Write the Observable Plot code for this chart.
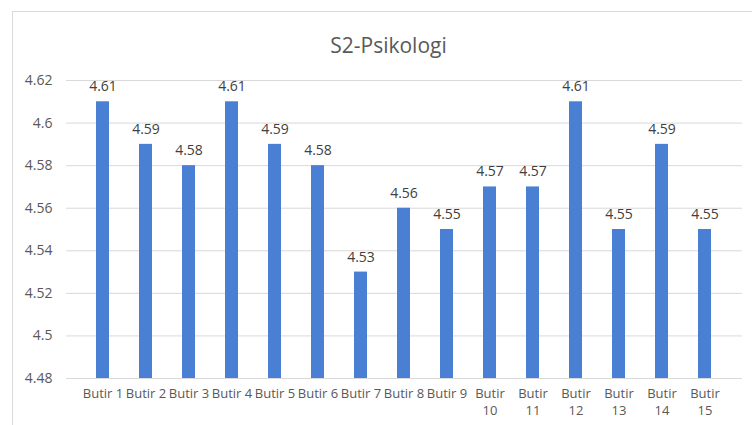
<!DOCTYPE html>
<html>
<head>
<meta charset="utf-8">
<script src="https://cdn.jsdelivr.net/npm/d3@7"></script>
<script src="https://cdn.jsdelivr.net/npm/@observablehq/plot@0.6"></script>
<style>
  body { margin: 0; background: #fff; }
  #wrap { position: relative; width: 752px; height: 425px; overflow: hidden; }
  #border { position: absolute; left: 12px; top: 11px; width: 800px; height: 500px;
            border-left: 1px solid #d9d9d9; border-top: 1px solid #d9d9d9; }
  #wrap svg { position: absolute; left: 0; top: 0; }
</style>
</head>
<body>
<div id="wrap"><div id="border"></div></div>
<script>
const title = "S2-Psikologi";
const categories = ["Butir 1","Butir 2","Butir 3","Butir 4","Butir 5","Butir 6","Butir 7","Butir 8","Butir 9","Butir 10","Butir 11","Butir 12","Butir 13","Butir 14","Butir 15"];
const values = [4.61, 4.59, 4.58, 4.61, 4.59, 4.58, 4.53, 4.56, 4.55, 4.57, 4.57, 4.61, 4.55, 4.59, 4.55];
const yTicks = [4.48, 4.50, 4.52, 4.54, 4.56, 4.58, 4.60, 4.62];

const data = categories.map((c, i) => ({cat: c, value: values[i]}));
const wrapped = categories.filter(c => c.length > 7);
const font = "'Open Sans', sans-serif";

const chart = Plot.plot({
  width: 752,
  height: 425,
  marginLeft: 66,
  marginRight: 10,
  marginTop: 80,
  marginBottom: 47,
  style: {fontFamily: font, fontSize: "13px", color: "#595959", background: "transparent"},
  x: {domain: categories, padding: 0.69, label: null},
  y: {domain: [4.48, 4.62], label: null},
  marks: [
    Plot.gridY(yTicks, {stroke: "#d9d9d9", strokeOpacity: 1, strokeWidth: 1}),
    Plot.axisY(yTicks, {tickSize: 0, tickPadding: 14, label: null, fill: "#595959", fontSize: 14,
      tickFormat: d => String(+d.toFixed(2))}),
    Plot.axisX({tickSize: 0, tickPadding: 10, label: null, fill: "#595959", fontSize: 13,
      tickFormat: d => d.length > 7 ? d.split(" ")[0] : d}),
    Plot.text(wrapped, {x: d => d, frameAnchor: "bottom", text: d => d.split(" ")[1], dy: 36,
      fill: "#595959", fontSize: 13}),
    Plot.barY(data, {x: "cat", y1: 4.48, y2: "value", fill: "#4a80d4"}),
    Plot.text(data, {x: "cat", y: "value", text: d => d.value.toFixed(2), dy: -15, fill: "#404040", fontSize: 14}),
    Plot.text([title], {frameAnchor: "top", text: d => d, dy: -42, dx: -16, fontSize: 21, fill: "#595959"})
  ]
});
document.getElementById("wrap").appendChild(chart);
</script>
</body>
</html>
